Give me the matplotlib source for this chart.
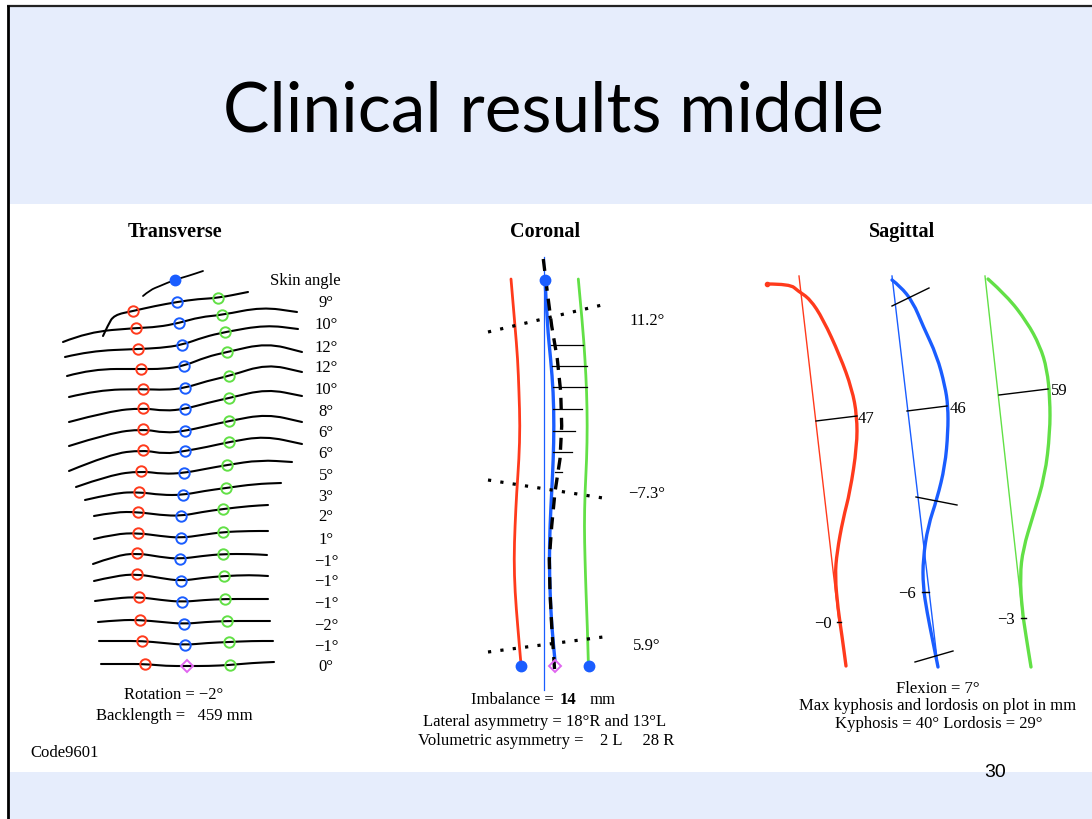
import numpy as np
import matplotlib
matplotlib.use("Agg")
import matplotlib.pyplot as plt
from matplotlib.path import Path
from matplotlib.patches import PathPatch, Rectangle

# ─── SLIDE TEXT ───────────────────────────────────────────────
TITLE        = "Clinical results middle"
PAGE_NUMBER  = "30"
CODE_LABEL   = "Code9601"
PANEL_TITLES = ["Transverse", "Coronal", "Sagittal"]

# ─── TRANSVERSE PANEL (slide pixel coords) ────────────────────
SKIN_ANGLES = ["9°", "10°", "12°", "12°", "10°", "8°", "6°", "6°", "5°", "3°",
               "2°", "1°", "−1°", "−1°", "−1°", "−2°", "−1°", "0°"]
ANGLE_Y = [303, 325, 348, 368, 390, 412, 433, 454, 476, 497,
           517, 540, 562, 582, 604, 626, 647, 667]

RED_X   = [133, 136, 138, 141, 143, 143, 143, 143, 141, 139, 138, 138, 137, 137, 139, 140, 142, 145]
RED_Y   = [312, 329, 350, 370, 390, 409, 430, 451, 472, 493, 513, 534, 554, 575, 598, 621, 642, 665]
BLUE_X  = [177, 179, 182, 184, 185, 185, 185, 185, 184, 183, 181, 181, 180, 181, 182, 184, 185]
BLUE_Y  = [303, 324, 346, 367, 389, 410, 432, 452, 474, 496, 517, 539, 560, 582, 603, 625, 646]
GREEN_X = [218, 222, 225, 227, 229, 229, 229, 229, 227, 226, 223, 223, 223, 224, 225, 227, 229, 230]
GREEN_Y = [299, 316, 333, 353, 377, 399, 422, 443, 466, 489, 510, 533, 555, 577, 600, 622, 643, 666]
ORIGIN_T = (187, 667)      # magenta diamond, bottom row
TOP_DOT  = (175, 281)

TOP_PROFILE = [(143, 297), (150, 291), (160, 287), (174, 281), (188, 277), (203, 272)]
PROFILES = [
    [(103, 337), (108, 326), (114, 316), (133, 312), (155, 307), (177, 303), (198, 300), (218, 299), (248, 293)],
    [(63, 343), (88, 333), (136, 329), (158, 328), (179, 324), (200, 318), (222, 316), (262, 308), (297, 313)],
    [(65, 358), (90, 352), (138, 350), (160, 349), (182, 346), (204, 338), (225, 333), (266, 326), (298, 330)],
    [(67, 377), (92, 370), (141, 370), (163, 370), (184, 367), (206, 358), (227, 353), (267, 344), (302, 353)],
    [(69, 398), (98, 391), (143, 390), (165, 391), (185, 389), (207, 382), (229, 377), (267, 365), (302, 373)],
    [(69, 423), (110, 412), (143, 409), (165, 412), (185, 410), (207, 404), (229, 399), (267, 390), (302, 397)],
    [(69, 447), (110, 434), (143, 430), (165, 434), (185, 432), (207, 427), (229, 422), (267, 415), (302, 423)],
    [(69, 472), (110, 455), (143, 451), (165, 455), (185, 452), (207, 448), (229, 443), (265, 437), (302, 445)],
    [(76, 488), (110, 476), (141, 472), (163, 475), (184, 474), (205, 470), (227, 466), (260, 461), (292, 463)],
    [(85, 501), (115, 494), (139, 493), (161, 496), (183, 496), (204, 492), (226, 489), (255, 485), (281, 484)],
    [(94, 517), (115, 513), (138, 513), (160, 516), (181, 517), (202, 513), (223, 510), (250, 507), (268, 506)],
    [(94, 540), (115, 535), (138, 534), (160, 537), (181, 539), (202, 536), (223, 533), (250, 532), (268, 532)],
    [(93, 565), (115, 557), (137, 554), (160, 558), (180, 560), (202, 557), (223, 555), (250, 555), (267, 556)],
    [(94, 582), (115, 577), (137, 575), (160, 579), (181, 582), (202, 579), (224, 577), (250, 576), (268, 577)],
    [(95, 602), (117, 599), (139, 598), (161, 601), (182, 603), (204, 601), (225, 600), (250, 600), (268, 600)],
    [(98, 623), (120, 621), (140, 621), (162, 623), (184, 625), (205, 623), (227, 622), (250, 622), (270, 622)],
    [(99, 642), (120, 642), (142, 642), (164, 644), (185, 646), (207, 644), (229, 643), (252, 642), (273, 642)],
    [(101, 665), (122, 665), (145, 665), (166, 667), (187, 667), (209, 667), (230, 666), (252, 664), (274, 663)],
]

# ─── CORONAL PANEL ────────────────────────────────────────────
COR_Y       = [280, 327, 360, 393, 427, 460, 493, 527, 560, 593, 627, 662]
COR_RED_X   = [511, 515, 517.7, 519, 520, 519, 516.7, 515, 514, 515, 517.7, 520.7]
COR_GREEN_X = [578.3, 582.7, 585, 586.7, 587.3, 586.7, 585, 584.3, 585, 586, 587.3, 588.3]
COR_BLUE_X  = [545, 547.3, 550.7, 553.3, 554, 553.3, 551.7, 550, 549.3, 550, 551.7, 555]
DASH_Y = [260, 293, 327, 360, 393, 427, 460, 493, 527, 560, 593, 627, 677]
DASH_X = [543.3, 547.3, 551.7, 557.3, 560.7, 561.7, 560, 555, 551.7, 549.3, 550, 551.7, 555]
HBAR_Y  = [346, 367, 388, 410, 432, 453, 473]
HBAR_X0 = [551, 552, 553, 553, 553, 553, 555]
HBAR_X1 = [583, 587, 587, 582, 575, 572, 562]
DOT_LINES = [((488, 333), (602, 306)), ((488, 481), (603, 499)), ((488, 653), (603, 638))]
COR_ANGLES = ["11.2°", "−7.3°", "5.9°"]
COR_ANGLE_Y = [321, 494, 646]
PLUMB_X = 544
COR_FEET = [(521, 667), (589, 667)]
COR_TOP = (545, 281)
COR_ORIGIN = (555, 667)

# ─── SAGITTAL PANEL ───────────────────────────────────────────
SAG_RED = [(767, 285), (790, 285), (798, 292), (810, 300), (823, 320), (840, 357), (852, 390), (857, 417),
           (857, 447), (850, 493), (843, 520), (837, 553), (835, 577), (838, 610), (842, 637), (846, 667)]
SAG_BLUE = [(892, 281), (900, 287), (913, 303), (923, 327), (937, 357), (945, 387), (948, 407), (948, 433),
            (945, 467), (937, 500), (928, 527), (923, 560), (923, 587), (927, 613), (933, 643), (938, 668)]
SAG_GREEN = [(988, 280), (1007, 297), (1027, 323), (1040, 347), (1047, 370), (1050, 400), (1050, 433),
             (1045, 477), (1033, 517), (1023, 550), (1020, 577), (1022, 610), (1026, 637), (1031, 668)]
SAG_REF = {"red": ((799, 277), (839, 623)), "blue": ((892, 277), (938, 668)), "green": ((985, 277), (1023, 620))}
SAG_CHORDS = [((816, 422), (857, 417)), ((892, 307), (929, 289)), ((907, 412), (947, 407)),
              ((916, 498), (957, 506)), ((915, 663), (953, 652)), ((999, 396), (1048, 390)),
              ((837, 623), (841, 623)), ((922, 593), (929, 593)), ((1021, 619), (1026, 619))]
SAG_MAX_LABELS = [("47", 858, 419), ("46", 950, 409), ("59", 1051, 391)]
SAG_MIN_LABELS = [("−0", 832, 624), ("−6", 916, 594), ("−3", 1015, 620)]

# ─── COLOURS / FONTS ──────────────────────────────────────────
RED   = "#ff3a1c"
BLUE  = "#1a5dff"
GREEN = "#62e046"
PINK  = "#e066f0"
SLIDE_BLUE = "#e6edfc"
SERIF = "Liberation Serif"


def smooth_path(pts):
    # quadratic bezier through midpoints, points act as control points
    pts = np.asarray(pts, float)
    verts = [pts[0]]
    codes = [Path.MOVETO]
    for i in range(1, len(pts) - 1):
        verts += [pts[i], (pts[i] + pts[i + 1]) / 2]
        codes += [Path.CURVE3, Path.CURVE3]
    verts.append(pts[-1])
    codes.append(Path.LINETO)
    return Path(verts, codes)


def draw_curve(ax, pts, color, lw):
    ax.add_patch(PathPatch(smooth_path(pts), fill=False, edgecolor=color, lw=lw,
                           capstyle="round", joinstyle="round"))


fig = plt.figure(figsize=(10.92, 8.2), dpi=100)
ax = fig.add_axes([0, 0, 1, 1])
ax.set_xlim(0, 1092)
ax.set_ylim(820, 0)
ax.axis("off")

# slide background
ax.add_patch(Rectangle((8, 8), 1100, 197, color=SLIDE_BLUE, lw=0))
ax.add_patch(Rectangle((8, 773), 1100, 60, color=SLIDE_BLUE, lw=0))
ax.plot([7, 1092], [7, 7], color="#222222", lw=1.6, solid_capstyle="butt")
ax.plot([8, 8], [6, 820], color="black", lw=2.0, solid_capstyle="butt")

ax.text(553, 112, TITLE, fontsize=50, family="Lato", ha="center", va="center")
ax.text(995, 773, PAGE_NUMBER, fontsize=14, family="Liberation Sans", ha="center", va="center")
ax.text(30, 753, CODE_LABEL, fontsize=12, family=SERIF, ha="left", va="center")

for name, x in zip(PANEL_TITLES, [175, 545, 902]):
    ax.text(x, 232, name, fontsize=14.5, family=SERIF, weight="bold", ha="center", va="center")

# ── transverse
draw_curve(ax, TOP_PROFILE, "black", 1.3)
for prof in PROFILES:
    draw_curve(ax, prof, "black", 1.5)
ax.plot(RED_X, RED_Y, "o", ms=7.5, mfc="none", mec=RED, mew=1.4, ls="none")
ax.plot(BLUE_X, BLUE_Y, "o", ms=7.5, mfc="none", mec=BLUE, mew=1.4, ls="none")
ax.plot(GREEN_X, GREEN_Y, "o", ms=7.5, mfc="none", mec=GREEN, mew=1.4, ls="none")
ax.plot(*ORIGIN_T, "D", ms=6.5, mfc="none", mec=PINK, mew=1.4)
ax.plot(*TOP_DOT, "o", ms=7.5, color=BLUE)
ax.text(305, 281, "Skin angle", fontsize=12, family=SERIF, ha="center", va="center")
for lab, y in zip(SKIN_ANGLES, ANGLE_Y):
    ax.text(326, y, lab, fontsize=12, family=SERIF, ha="center", va="center")
ax.text(174, 695, "Rotation = −2°", fontsize=12, family=SERIF, ha="center", va="center")
ax.text(174, 716, "Backlength =   459 mm", fontsize=12, family=SERIF, ha="center", va="center")

# ── coronal
ax.plot([PLUMB_X, PLUMB_X], [258, 691], color=BLUE, lw=0.9)
draw_curve(ax, list(zip(COR_RED_X, COR_Y)), RED, 2.0)
draw_curve(ax, list(zip(COR_GREEN_X, COR_Y)), GREEN, 2.0)
draw_curve(ax, list(zip(COR_BLUE_X, COR_Y)), BLUE, 2.4)
ax.plot(DASH_X, DASH_Y, color="black", lw=2.4, ls=(0, (3.6, 2.4)))
for y, x0, x1 in zip(HBAR_Y, HBAR_X0, HBAR_X1):
    ax.plot([x0, x1], [y, y], color="black", lw=0.9)
for (p0, p1) in DOT_LINES:
    ax.plot([p0[0], p1[0]], [p0[1], p1[1]], color="black", lw=2.3,
            ls=(0, (1.0, 2.9)), dash_capstyle="butt")
for lab, y in zip(COR_ANGLES, COR_ANGLE_Y):
    ax.text(647, y, lab, fontsize=12, family=SERIF, ha="center", va="center")
ax.plot([p[0] for p in COR_FEET], [p[1] for p in COR_FEET], "o", ms=7.5, color=BLUE, ls="none")
ax.plot(*COR_TOP, "o", ms=7.5, color=BLUE)
ax.plot(*COR_ORIGIN, "D", ms=6.5, mfc="none", mec=PINK, mew=1.4)

ax.text(554, 700, "Imbalance =", fontsize=12, family=SERIF, ha="right", va="center")
ax.text(560, 700, "14", fontsize=12, family=SERIF, weight="bold", ha="left", va="center")
ax.text(590, 700, "mm", fontsize=12, family=SERIF, ha="left", va="center")
ax.text(545, 722, "Lateral asymmetry = 18°R and 13°L", fontsize=12, family=SERIF, ha="center", va="center")
ax.text(546, 741, "Volumetric asymmetry =    2 L     28 R", fontsize=12, family=SERIF, ha="center", va="center")

# ── sagittal
for key, col in [("red", RED), ("blue", BLUE), ("green", GREEN)]:
    p0, p1 = SAG_REF[key]
    ax.plot([p0[0], p1[0]], [p0[1], p1[1]], color=col, lw=1.0)
draw_curve(ax, SAG_RED, RED, 2.4)
draw_curve(ax, SAG_BLUE, BLUE, 2.4)
draw_curve(ax, SAG_GREEN, GREEN, 2.4)
ax.plot(SAG_RED[0][0], SAG_RED[0][1], "o", ms=3, color=RED)
for (p0, p1) in SAG_CHORDS:
    ax.plot([p0[0], p1[0]], [p0[1], p1[1]], color="black", lw=1.0)
for lab, x, y in SAG_MAX_LABELS:
    ax.text(x, y, lab, fontsize=12, family=SERIF, ha="left", va="center")
for lab, x, y in SAG_MIN_LABELS:
    ax.text(x, y, lab, fontsize=12, family=SERIF, ha="right", va="center")
ax.text(938, 689, "Flexion = 7°", fontsize=12, family=SERIF, ha="center", va="center")
ax.text(938, 706, "Max kyphosis and lordosis on plot in mm", fontsize=12, family=SERIF, ha="center", va="center")
ax.text(939, 724, "Kyphosis = 40° Lordosis = 29°", fontsize=12, family=SERIF, ha="center", va="center")

fig.savefig("out.png", dpi=100, facecolor="white")
